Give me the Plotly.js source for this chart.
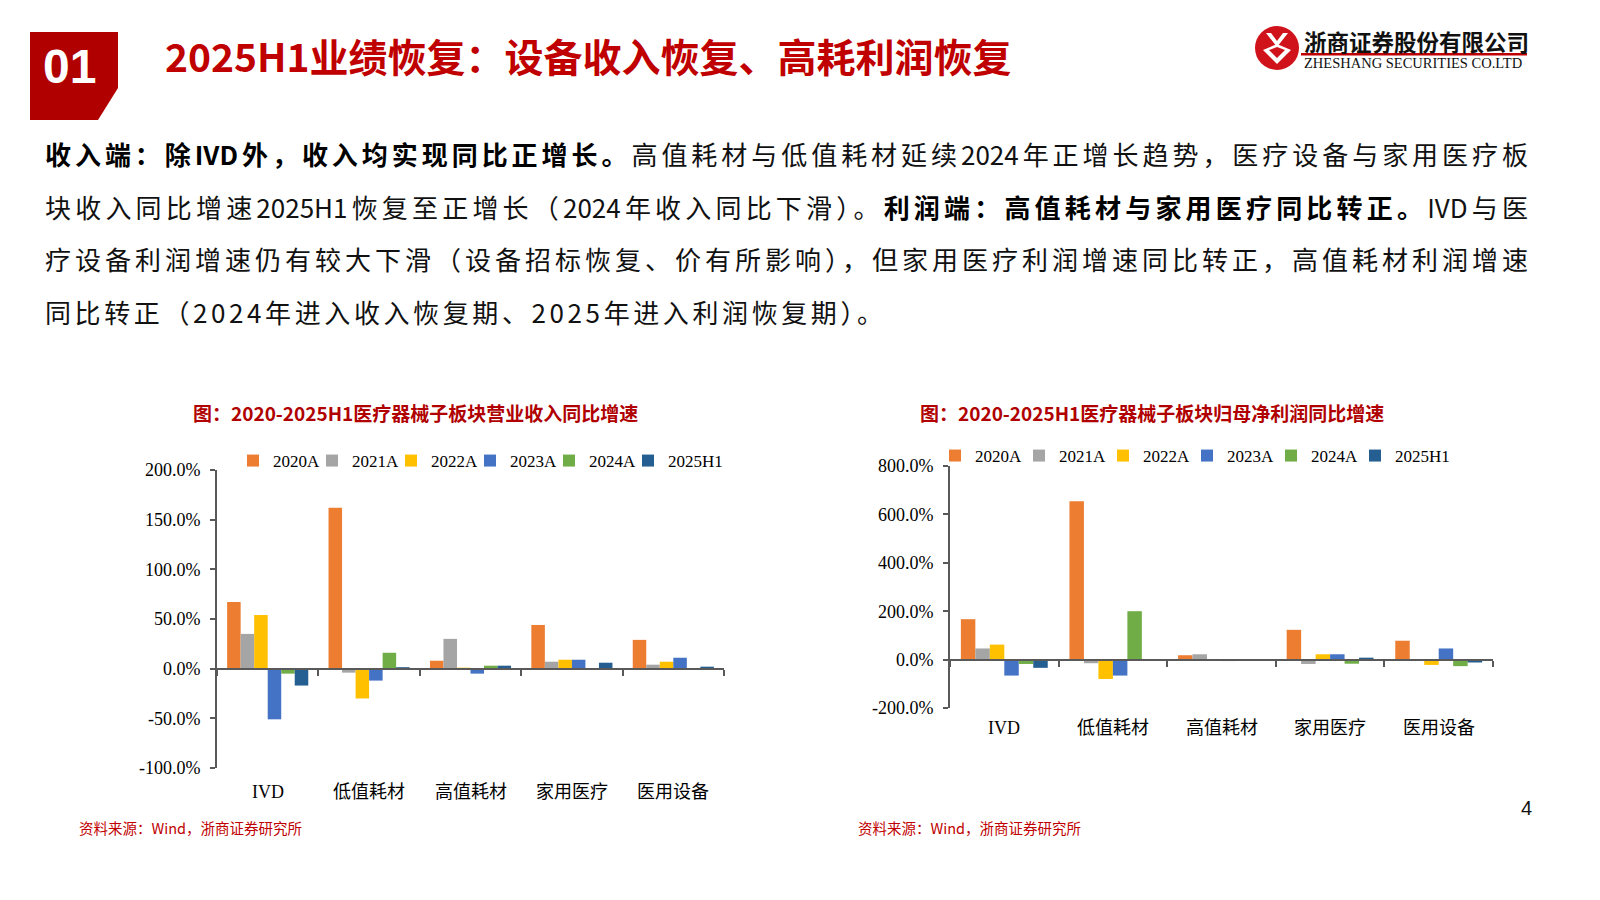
<!DOCTYPE html>
<html>
<head>
<meta charset="utf-8">
<script src="https://cdn.plot.ly/plotly-3.0.1.min.js"></script>
<style>
html,body{margin:0;padding:0;background:#fff;}
#chart{position:absolute;left:0;top:0;width:1600px;height:900px;}
#para{position:absolute;left:45px;top:128px;width:1483px;font-family:"Noto Sans CJK SC","Noto Sans",sans-serif;font-size:26px;color:#111;font-weight:400;}
#para div{height:52.5px;line-height:52.5px;text-align:justify;text-align-last:justify;}
#para div.last{text-align-last:left;letter-spacing:3.6px;}
#para b{font-weight:700;color:#000;}
</style>
</head>
<body>
<div id="chart"></div>
<div id="para">
<div><b>收入端：除IVD外，收入均实现同比正增长。</b>高值耗材与低值耗材延续2024年正增长趋势，医疗设备与家用医疗板</div>
<div>块收入同比增速2025H1恢复至正增长（2024年收入同比下滑）。<b>利润端：高值耗材与家用医疗同比转正。</b>IVD与医</div>
<div>疗设备利润增速仍有较大下滑（设备招标恢复、价有所影响），但家用医疗利润增速同比转正，高值耗材利润增速</div>
<div class="last">同比转正（2024年进入收入恢复期、2025年进入利润恢复期）。</div>
</div>
<script>
// ---------- DATA ----------
const categories = ['IVD', '低值耗材', '高值耗材', '家用医疗', '医用设备'];
const seriesNames = ['2020A', '2021A', '2022A', '2023A', '2024A', '2025H1'];

// 营业收入同比增速 (%)
const rev2020A  = [67, 162, 8, 44, 29];
const rev2021A  = [35, -4, 30, 7, 4];
const rev2022A  = [54, -30, 1, 9, 7];
const rev2023A  = [-51, -12, -5, 9, 11];
const rev2024A  = [-5, 16, 3, 0.3, 0.4];
const rev2025H1 = [-17, 1.5, 3, 6, 2];

// 归母净利润同比增速 (%)
const prof2020A  = [167, 654, 18, 123, 78];
const prof2021A  = [46, -15, 22, -18, -2];
const prof2022A  = [62, -80, -5, 22, -22];
const prof2023A  = [-66, -66, -6, 22, 46];
const prof2024A  = [-18, 200, -1, -17, -27];
const prof2025H1 = [-34, 1, -1, 8, -12];

const revTicks  = [-100, -50, 0, 50, 100, 150, 200];
const profTicks = [-200, 0, 200, 400, 600, 800];

const colors = ['#ED7D31', '#A5A5A5', '#FFC000', '#4472C4', '#70AD47', '#255E91'];

// ---------- HELPERS ----------
const W = 1600, H = 900;
const X = p => p / W;
const Y = p => 1 - p / H;

const revSeries  = [rev2020A, rev2021A, rev2022A, rev2023A, rev2024A, rev2025H1];
const profSeries = [prof2020A, prof2021A, prof2022A, prof2023A, prof2024A, prof2025H1];

const traces = [];
revSeries.forEach((vals, i) => {
  const t = {type: 'bar', name: seriesNames[i], x: categories, y: vals,
    xaxis: 'x', yaxis: 'y', legend: 'legend',
    marker: {color: colors[i], line: {width: 0}}};
  if (i === seriesNames.length - 1) t.legendwidth = 62;
  traces.push(t);
});
profSeries.forEach((vals, i) => {
  const t = {type: 'bar', name: seriesNames[i], x: categories, y: vals,
    xaxis: 'x2', yaxis: 'y2', legend: 'legend2',
    marker: {color: colors[i], line: {width: 0}}};
  if (i === seriesNames.length - 1) t.legendwidth = 62;
  traces.push(t);
});

// domains in pixels
const L = {x0: 217, x1: 724, yTop: 470, yBot: 768, rng: [-100, 200]};
const R = {x0: 950, x1: 1493, yTop: 466, yBot: 708, rng: [-200, 800]};
function zeroPos(c) {
  const d0 = Y(c.yBot), d1 = Y(c.yTop);
  return d0 + (0 - c.rng[0]) / (c.rng[1] - c.rng[0]) * (d1 - d0);
}
const axisColor = '#595959';
const tickFont = {family: 'Liberation Serif, Noto Sans CJK SC', size: 18, color: '#000'};
const fmt = v => v.toFixed(1) + '%';

function xAxisCfg(c) {
  return {domain: [X(c.x0), X(c.x1)], anchor: 'free', position: zeroPos(c),
    type: 'category', categoryarray: categories, categoryorder: 'array',
    range: [-0.5, categories.length - 0.5], tickson: 'boundaries',
    ticks: 'outside', ticklen: 6, tickwidth: 2, tickcolor: axisColor,
    showline: true, linecolor: axisColor, linewidth: 2,
    showticklabels: false, showgrid: false, zeroline: false, fixedrange: true};
}
function yAxisCfg(c, ticks, anchor) {
  return {domain: [Y(c.yBot), Y(c.yTop)], anchor: anchor, range: c.rng,
    tickvals: ticks, ticktext: ticks.map(fmt), tickfont: tickFont,
    ticks: 'outside', ticklen: 5, tickwidth: 2, tickcolor: axisColor,
    ticklabelstandoff: 6,
    showline: true, linecolor: axisColor, linewidth: 2,
    showgrid: false, zeroline: false, fixedrange: true};
}

const anns = [];
function ann(text, x, y, o) {
  anns.push(Object.assign({text: text, x: X(x), y: Y(y), xref: 'paper', yref: 'paper',
    showarrow: false, xanchor: 'left', yanchor: 'middle'}, o || {}));
}

// header
ann('01', 69, 66, {xanchor: 'center', font: {family: 'Liberation Sans', size: 48, color: '#fff', weight: 700}});
ann('<b>2025H1业绩恢复：设备收入恢复、高耗利润恢复</b>', 163, 55,
  {font: {family: 'Noto Sans CJK SC', size: 39, color: '#C00000'}});
// logo text
ann('浙商证券股份有限公司', 1302, 41, {font: {family: 'Noto Sans CJK SC', size: 22.5, color: '#111', weight: 700}});
ann('ZHESHANG SECURITIES CO.LTD', 1302, 63, {font: {family: 'Liberation Serif', size: 14.5, color: '#111'}});

// chart titles
ann('<b>图：2020-2025H1医疗器械子板块营业收入同比增速</b>', 415, 412,
  {xanchor: 'center', font: {family: 'Noto Sans CJK SC', size: 19, color: '#B00000'}});
ann('<b>图：2020-2025H1医疗器械子板块归母净利润同比增速</b>', 1152, 412,
  {xanchor: 'center', font: {family: 'Noto Sans CJK SC', size: 19, color: '#B00000'}});

// category labels (low position)
categories.forEach(c => {
  anns.push({text: c, x: c, xref: 'x', y: Y(792), yref: 'paper', showarrow: false,
    xanchor: 'center', yanchor: 'middle', font: {family: 'Liberation Serif, Noto Sans CJK SC', size: 18, color: '#000'}});
  anns.push({text: c, x: c, xref: 'x2', y: Y(728), yref: 'paper', showarrow: false,
    xanchor: 'center', yanchor: 'middle', font: {family: 'Liberation Serif, Noto Sans CJK SC', size: 18, color: '#000'}});
});

// sources and page number
ann('资料来源：Wind，浙商证券研究所', 77, 827, {font: {family: 'Noto Sans CJK SC', size: 14.5, color: '#C00000'}});
ann('资料来源：Wind，浙商证券研究所', 856, 827, {font: {family: 'Noto Sans CJK SC', size: 14.5, color: '#C00000'}});
ann('4', 1526, 808, {xanchor: 'center', font: {family: 'Liberation Sans', size: 20, color: '#111'}});

// shapes
function pathPx(pts) {
  return 'M' + pts.map(p => X(p[0]) + ',' + Y(p[1])).join('L') + 'Z';
}
const shapes = [
  {type: 'path', xref: 'paper', yref: 'paper', fillcolor: '#B00000', line: {width: 0},
    path: pathPx([[30, 32], [118, 32], [118, 88], [98, 120], [30, 120]])},
  // logo circle
  {type: 'circle', xref: 'paper', yref: 'paper', fillcolor: '#D0121B', line: {width: 0},
    x0: X(1255), x1: X(1299), y0: Y(70), y1: Y(26)},
  {type: 'path', xref: 'paper', yref: 'paper', fillcolor: '#fff', line: {width: 0},
    path: pathPx([[1266, 33], [1271, 33], [1277, 41], [1283, 33], [1288, 33], [1277, 47]])},
  {type: 'path', xref: 'paper', yref: 'paper', fillcolor: '#fff', line: {width: 0},
    path: pathPx([[1263, 50], [1277, 44], [1291, 50], [1277, 64]])},
  {type: 'path', xref: 'paper', yref: 'paper', fillcolor: '#D0121B', line: {width: 0},
    path: pathPx([[1269, 50], [1277, 47], [1285, 50], [1277, 58]])},
  // logo underline
  {type: 'rect', xref: 'paper', yref: 'paper', fillcolor: '#C00000', line: {width: 0},
    x0: X(1301), x1: X(1527), y0: Y(55.5), y1: Y(53)}
];

const legendFont = {family: 'Liberation Serif', size: 17, color: '#000'};
const layout = {
  width: W, height: H, margin: {l: 0, r: 0, t: 0, b: 0},
  paper_bgcolor: 'rgba(0,0,0,0)', plot_bgcolor: 'rgba(0,0,0,0)',
  barmode: 'group', bargap: 0.2, bargroupgap: 0,
  showlegend: true, hovermode: false,
  xaxis: xAxisCfg(L), yaxis: yAxisCfg(L, revTicks, 'x'),
  xaxis2: xAxisCfg(R), yaxis2: yAxisCfg(R, profTicks, 'x2'),
  legend: {orientation: 'h', x: X(233), y: Y(461), xanchor: 'left', yanchor: 'middle',
    font: legendFont, itemwidth: 30, entrywidthmode: 'pixels', entrywidth: 34,
    bgcolor: 'rgba(0,0,0,0)', traceorder: 'normal'},
  legend2: {orientation: 'h', x: X(935), y: Y(456), xanchor: 'left', yanchor: 'middle',
    font: legendFont, itemwidth: 30, entrywidthmode: 'pixels', entrywidth: 39,
    bgcolor: 'rgba(0,0,0,0)', traceorder: 'normal'},
  annotations: anns, shapes: shapes
};

Plotly.newPlot('chart', traces, layout, {staticPlot: true, displayModeBar: false});
</script>
</body>
</html>
